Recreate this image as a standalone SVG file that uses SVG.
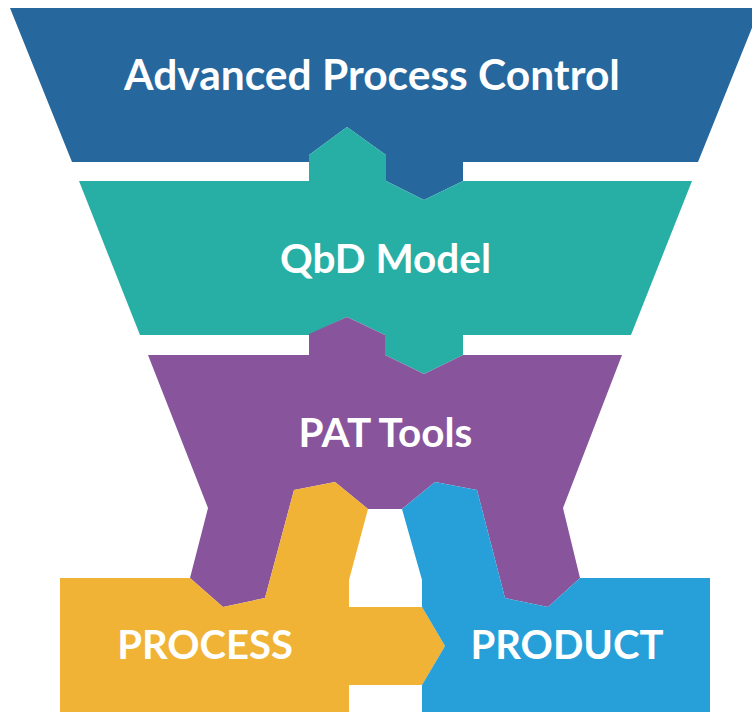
<svg xmlns="http://www.w3.org/2000/svg" width="752" height="712" viewBox="0 0 752 712">
  <style>
    .lbl { font-family: "Lato", "Open Sans", "Liberation Sans", sans-serif; font-weight: 700; fill: #ffffff; text-anchor: middle; }
  </style>
  <rect width="752" height="712" fill="#ffffff"/>

  <!-- Top tier: Advanced Process Control -->
  <g id="apc">
    <polygon fill="#26689D" points="10,8 760,8 698,162 463,162 463,181 424,200 386,181 386,155 347,127 309,155 309,162 72,162"/>
    <text class="lbl" x="372" y="90" font-size="42.5">Advanced Process Control</text>
  </g>

  <!-- Second tier: QbD Model -->
  <g id="qbd">
    <polygon fill="#28AFA5" points="79,181 309,181 309,155 347,127 386,155 386,181 424,200 463,181 692,181 631,335 463,335 463,355 424,374 385,355 385,335 347,317 309,335 140,335"/>
    <text class="lbl" x="385.5" y="273" font-size="40.5">QbD Model</text>
  </g>

  <!-- Third tier: PAT Tools -->
  <g id="pat">
    <polygon fill="#88559C" points="148,355 309,355 309,334 347,317 385,335 385,355 424,374 463,355 622,355 563,508 580,578 548,607 505,598 477,490 435,482 402,509 368,509 335,482 294,490 265,598 223,607 190,578 208,508"/>
    <text class="lbl" x="385.5" y="447" font-size="40.5">PAT Tools</text>
  </g>

  <!-- Base: PROCESS arrow -->
  <g id="process">
    <polygon fill="#F0B336" points="60,578 190,578 223,607 265,598 294,490 335,482 368,509 349,580 349,607 422,607 445,646 422,685 349,685 349,712 60,712"/>
    <text class="lbl" x="205" y="659" font-size="40">PROCESS</text>
  </g>

  <!-- Base: PRODUCT block -->
  <g id="product">
    <polygon fill="#279FD9" points="402,509 435,482 477,490 505,598 548,607 580,578 710,578 710,712 422,712 422,685 445,646 422,607 422,580"/>
    <text class="lbl" x="567" y="659" font-size="40">PRODUCT</text>
  </g>

  <g id="connectors"/>
</svg>
